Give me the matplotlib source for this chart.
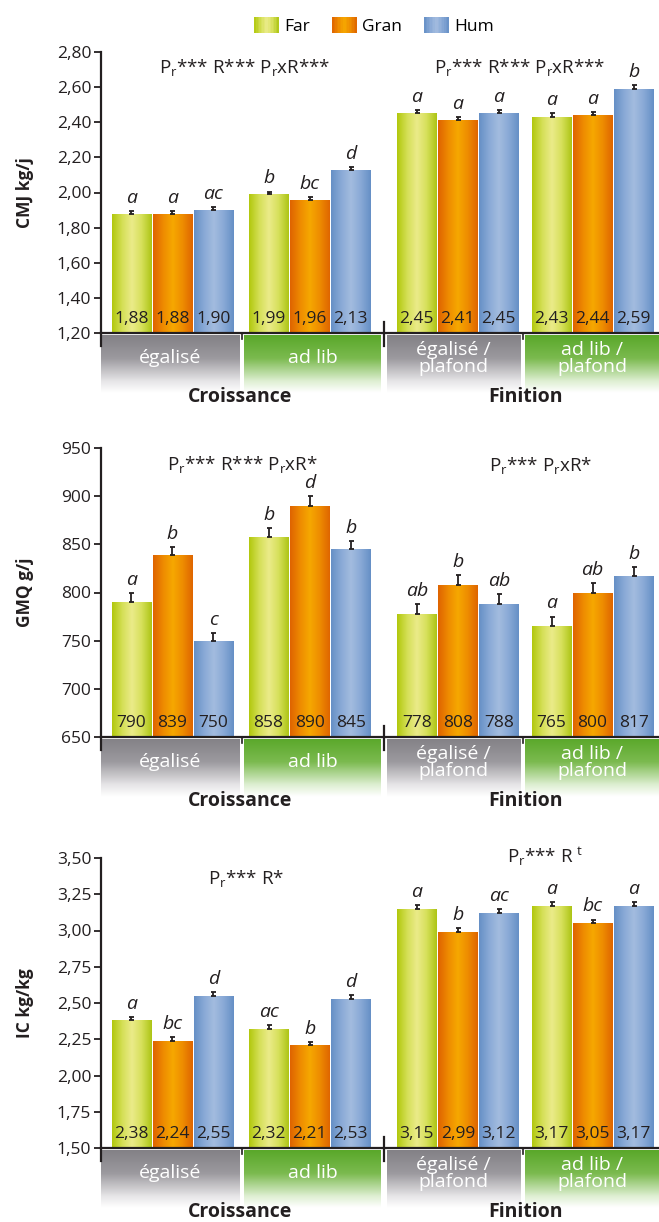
import numpy as np
import matplotlib
matplotlib.use("Agg")
import matplotlib.pyplot as plt
from matplotlib.colors import LinearSegmentedColormap
from matplotlib.patches import Rectangle
from matplotlib.legend_handler import HandlerBase
from matplotlib.ticker import FuncFormatter, MultipleLocator

plt.rcParams['font.family'] = ['Open Sans', 'DejaVu Sans']
plt.rcParams['mathtext.fontset'] = 'custom'
plt.rcParams['mathtext.rm'] = 'Open Sans'
plt.rcParams['mathtext.it'] = 'Open Sans:italic'

INK = '#231f20'
NARROW = ['Liberation Sans Narrow', 'Open Sans', 'DejaVu Sans']

# --- data -------------------------------------------------------------
series = ['Far', 'Gran', 'Hum']
groups = ['égalisé', 'ad lib', 'égalisé /\nplafond', 'ad lib /\nplafond']
phases = ['Croissance', 'Finition']

cmj = [[1.88, 1.88, 1.90], [1.99, 1.96, 2.13], [2.45, 2.41, 2.45], [2.43, 2.44, 2.59]]
cmj_err = [[0.015, 0.015, 0.015], [0.015, 0.015, 0.015], [0.02, 0.02, 0.02], [0.02, 0.02, 0.02]]
cmj_letters = [['a', 'a', 'ac'], ['b', 'bc', 'd'], ['a', 'a', 'a'], ['a', 'a', 'b']]
cmj_stats = [r'P$_\mathrm{r}$*** R*** P$_\mathrm{r}$xR***', r'P$_\mathrm{r}$*** R*** P$_\mathrm{r}$xR***']

gmq = [[790, 839, 750], [858, 890, 845], [778, 808, 788], [765, 800, 817]]
gmq_err = [[9, 8, 8], [9, 10, 8], [10, 10, 10], [10, 10, 9]]
gmq_letters = [['a', 'b', 'c'], ['b', 'd', 'b'], ['ab', 'b', 'ab'], ['a', 'ab', 'b']]
gmq_stats = [r'P$_\mathrm{r}$*** R*** P$_\mathrm{r}$xR*', r'P$_\mathrm{r}$*** P$_\mathrm{r}$xR*']

ic = [[2.38, 2.24, 2.55], [2.32, 2.21, 2.53], [3.15, 2.99, 3.12], [3.17, 3.05, 3.17]]
ic_err = [[0.025, 0.025, 0.025], [0.025, 0.02, 0.025], [0.025, 0.025, 0.025], [0.025, 0.025, 0.025]]
ic_letters = [['a', 'bc', 'd'], ['ac', 'b', 'd'], ['a', 'b', 'ac'], ['a', 'bc', 'a']]
ic_stats = [r'P$_\mathrm{r}$*** R*', r'P$_\mathrm{r}$*** R $^\mathrm{t}$']

# --- styles -----------------------------------------------------------
cmaps = [
    LinearSegmentedColormap.from_list('far', ['#b2c80e', '#d4df55', '#ebeb8a', '#d6e05a', '#aec516']),
    LinearSegmentedColormap.from_list('gran', ['#df6400', '#ee8a00', '#f6a800', '#ee8c00', '#df6600']),
    LinearSegmentedColormap.from_list('hum', ['#6690c6', '#89a9d6', '#a3bcdf', '#89a9d6', '#6690c6']),
]
band_cmaps = [
    LinearSegmentedColormap.from_list('gray', [(0, '#838186'), (0.4, '#9c9a9f'), (0.8, '#e6e5e7'), (1, '#ffffff')]),
    LinearSegmentedColormap.from_list('green', [(0, '#5aa82a'), (0.4, '#7bba4f'), (0.8, '#deefd2'), (1, '#ffffff')]),
]

W, H = 659, 1222
fig = plt.figure(figsize=(W / 100, H / 100), dpi=100)


def fx(px):
    return px / W


def fy(py):
    return 1 - py / H


XMAX = 13.45
group_centers = [1.72, 5.03, 8.6, 11.85]
band_x = [(0, 3.35), (3.45, 6.75), (6.89, 10.1), (10.22, 13.45)]
phase_px = [240, 526]


def comma(fmt):
    return FuncFormatter(lambda v, p: fmt.format(v).replace('.', ','))


def panel(top, bottom, vals, errs, letters, stats, stats_pos, ylim, step, fmt, ylabel):
    hpx = bottom - top
    ax = fig.add_axes([fx(101), fy(bottom), fx(W - 101), hpx / H])
    for g, gc in enumerate(group_centers):
        for s in range(3):
            x = gc + (s - 1) * 0.99
            v = vals[g][s]
            bar = ax.bar(x, v - ylim[0], bottom=ylim[0], width=0.95,
                         facecolor='none', edgecolor='none', zorder=2)[0]
            im = ax.imshow(np.linspace(0, 1, 64).reshape(1, -1), cmap=cmaps[s],
                           extent=[x - 0.475, x + 0.475, ylim[0], v], aspect='auto', zorder=2)
            im.set_clip_path(bar)
            ax.errorbar(x, v, yerr=[[0], [errs[g][s]]], fmt='none', ecolor=INK,
                        elinewidth=1.3, capsize=1.8, capthick=1.3, zorder=3)
            ax.annotate(letters[g][s], (x, v + errs[g][s]), xytext=(0, 3),
                        textcoords='offset points', ha='center', va='bottom',
                        fontsize=14, style='italic', color=INK)
            ax.annotate(fmt.format(v).replace('.', ','), (x, ylim[0]), xytext=(0, 10),
                        textcoords='offset points', ha='center', va='center',
                        fontsize=12.5, family=NARROW, color=INK, zorder=4)
    for txt, (sx, sy) in zip(stats, stats_pos):
        ax.text(sx, sy, txt, ha='center', va='center', fontsize=13.5, color=INK,
                clip_on=False)

    ax.set_xlim(0, XMAX)
    ax.set_ylim(*ylim)
    ax.yaxis.set_major_locator(MultipleLocator(step))
    ax.yaxis.set_major_formatter(comma(fmt))
    ax.tick_params(axis='y', direction='out', length=5, width=1.3, pad=2,
                   labelsize=12.5, colors=INK)
    ax.tick_params(axis='x', bottom=False, labelbottom=False)
    for side in ['top', 'right']:
        ax.spines[side].set_visible(False)
    for side in ['left', 'bottom']:
        ax.spines[side].set_linewidth(1.6)
        ax.spines[side].set_color(INK)

    # axis extensions and break marks
    d = 1.0 / hpx
    ax.plot([0, 0], [0, -13 * d], transform=ax.transAxes, color=INK, lw=1.6, clip_on=False)
    bt = ax.get_xaxis_transform()
    ax.plot([6.82, 6.82], [11 * d, -13 * d], transform=bt, color=INK, lw=1.6, clip_on=False)
    for xm in [3.4, 10.16]:
        ax.plot([xm, xm], [0, -6 * d], transform=bt, color=INK, lw=1.2, clip_on=False)

    # treatment bands
    bax = fig.add_axes([fx(101), fy(bottom + 60), fx(W - 101), 58 / H], zorder=-1)
    for i, (x0, x1) in enumerate(band_x):
        bax.imshow(np.linspace(0, 1, 64).reshape(-1, 1), cmap=band_cmaps[i % 2],
                   extent=[x0, x1, 0, 1], aspect='auto')
        bax.text((x0 + x1) / 2, 0.6, groups[i], ha='center', va='center',
                 fontsize=14, color='white', linespacing=0.95)
    bax.set_xlim(0, XMAX)
    bax.set_ylim(0, 1)
    bax.axis('off')
    for name, px in zip(phases, phase_px):
        fig.text(fx(px), fy(bottom + 64), name, ha='center', va='center',
                 fontsize=14, fontweight='bold', color=INK)

    fig.text(fx(25), fy((top + bottom) / 2), ylabel, rotation=90, ha='center',
             va='center', fontsize=12.5, fontweight='bold', color=INK)
    return ax


panel(52, 333, cmj, cmj_err, cmj_letters, cmj_stats, [(3.47, 2.71), (10.1, 2.71)],
      (1.2, 2.8), 0.2, '{:.2f}', 'CMJ kg/j')
panel(448, 737, gmq, gmq_err, gmq_letters, gmq_stats, [(3.4, 933), (10.6, 932)],
      (650, 950), 50, '{:.0f}', 'GMQ g/j')
panel(858, 1148, ic, ic_err, ic_letters, ic_stats, [(3.5, 3.36), (10.7, 3.51)],
      (1.5, 3.5), 0.25, '{:.2f}', 'IC kg/kg')


# legend with gradient swatches
class GradientHandler(HandlerBase):
    def __init__(self, cmap):
        super().__init__()
        self.cmap = cmap

    def create_artists(self, legend, orig_handle, xdescent, ydescent, width, height, fontsize, trans):
        n = 16
        arts = []
        for i in range(n):
            r = Rectangle((-xdescent + i * width / n, -ydescent), width / n + 0.3, height,
                          facecolor=self.cmap((i + 0.5) / n), edgecolor='none', transform=trans)
            arts.append(r)
        return arts


handles = [Rectangle((0, 0), 1, 1) for _ in series]
fig.legend(handles, series, loc='center', bbox_to_anchor=(fx(374), fy(26)), ncol=3,
           frameon=False, fontsize=12.5, handlelength=1.4, handleheight=1.0,
           handletextpad=0.3, columnspacing=1.3,
           handler_map={h: GradientHandler(c) for h, c in zip(handles, cmaps)})

fig.savefig('out.png', dpi=100)
